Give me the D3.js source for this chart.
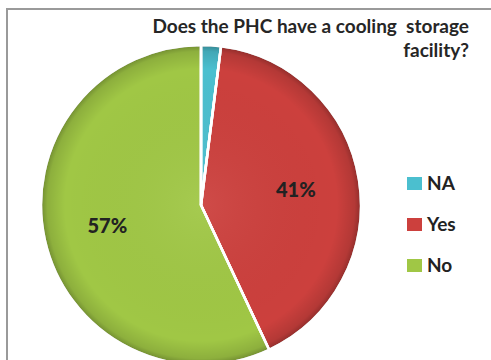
<!DOCTYPE html>
<html>
<head>
<meta charset="utf-8">
<script src="https://cdn.jsdelivr.net/npm/d3@7"></script>
<style>
  html, body { margin: 0; padding: 0; background: #ffffff; }
  svg { display: block; }
</style>
</head>
<body>
<svg id="chart" width="491" height="360"></svg>
<script>
// Survey answers: share of PHCs with a cooling storage facility
const categories = ["NA", "Yes", "No"];
const shares = [2, 41, 57];
const sliceLabels = ["", "41%", "57%"];
const colors = ["#4bbfcf", "#cc403d", "#a0c745"];
const titleLines = ["Does the PHC have a cooling  storage", "facility?"];

const svg = d3.select("#chart");
const W = 491, H = 360;
const font = "Lato, 'Open Sans', sans-serif";

// chart frame
svg.append("rect")
  .attr("x", 7).attr("y", 9)
  .attr("width", W + 20).attr("height", H + 20)
  .attr("fill", "#ffffff")
  .attr("stroke", "#9a9a9a")
  .attr("stroke-width", 2);

const defs = svg.append("defs");
// darker rim toward the pie edge
const rim = defs.append("radialGradient")
  .attr("id", "rim")
  .attr("gradientUnits", "userSpaceOnUse")
  .attr("cx", 0).attr("cy", 0).attr("r", 160);
rim.append("stop").attr("offset", "0%").attr("stop-color", "#fff").attr("stop-opacity", 0.06);
rim.append("stop").attr("offset", "85%").attr("stop-color", "#000").attr("stop-opacity", 0);
rim.append("stop").attr("offset", "96%").attr("stop-color", "#000").attr("stop-opacity", 0.12);
rim.append("stop").attr("offset", "100%").attr("stop-color", "#000").attr("stop-opacity", 0.3);

const cx = 201, cy = 205, R = 160;
const g = svg.append("g").attr("transform", `translate(${cx},${cy})`);

const pie = d3.pie().sort(null).value(d => d)(shares);
const arc = d3.arc().innerRadius(0).outerRadius(R);

g.selectAll("path.slice")
  .data(pie)
  .join("path")
  .attr("class", "slice")
  .attr("d", arc)
  .attr("fill", (d, i) => colors[i])
  .attr("stroke", "#ffffff")
  .attr("stroke-width", 2.5)
  .attr("stroke-linejoin", "round");

g.selectAll("path.rim")
  .data(pie)
  .join("path")
  .attr("class", "rim")
  .attr("d", arc)
  .attr("fill", "url(#rim)")
  .attr("stroke", "#ffffff")
  .attr("stroke-width", 2.5)
  .attr("stroke-linejoin", "round");

// percentage labels inside the slices
const labelArc = d3.arc().innerRadius(R * 0.6).outerRadius(R * 0.6);
g.selectAll("text.val")
  .data(pie)
  .join("text")
  .attr("class", "val")
  .attr("transform", d => `translate(${labelArc.centroid(d)})`)
  .attr("text-anchor", "middle")
  .attr("dy", "0.35em")
  .attr("font-family", font)
  .attr("font-weight", "900")
  .attr("font-size", 20)
  .attr("fill", "#222")
  .text((d, i) => sliceLabels[i]);

// title, right aligned
svg.append("text")
  .attr("text-anchor", "end")
  .attr("font-family", font)
  .attr("font-weight", "bold")
  .attr("font-size", 19)
  .attr("fill", "#262626")
  .selectAll("tspan")
  .data(titleLines)
  .join("tspan")
  .attr("x", 469)
  .attr("y", (d, i) => 33 + i * 24)
  .style("white-space", "pre")
  .text(d => d);

// legend
const legend = svg.append("g").attr("transform", "translate(407,183)");
const item = legend.selectAll("g")
  .data(categories)
  .join("g")
  .attr("transform", (d, i) => `translate(0,${i * 41})`);
item.append("rect")
  .attr("x", 0).attr("y", -6)
  .attr("width", 15).attr("height", 13)
  .attr("fill", (d, i) => colors[i]);
item.append("text")
  .attr("x", 20)
  .attr("dy", "0.35em")
  .attr("font-family", font)
  .attr("font-weight", "bold")
  .attr("font-size", 19)
  .attr("fill", "#222")
  .text(d => d);
</script>
</body>
</html>
